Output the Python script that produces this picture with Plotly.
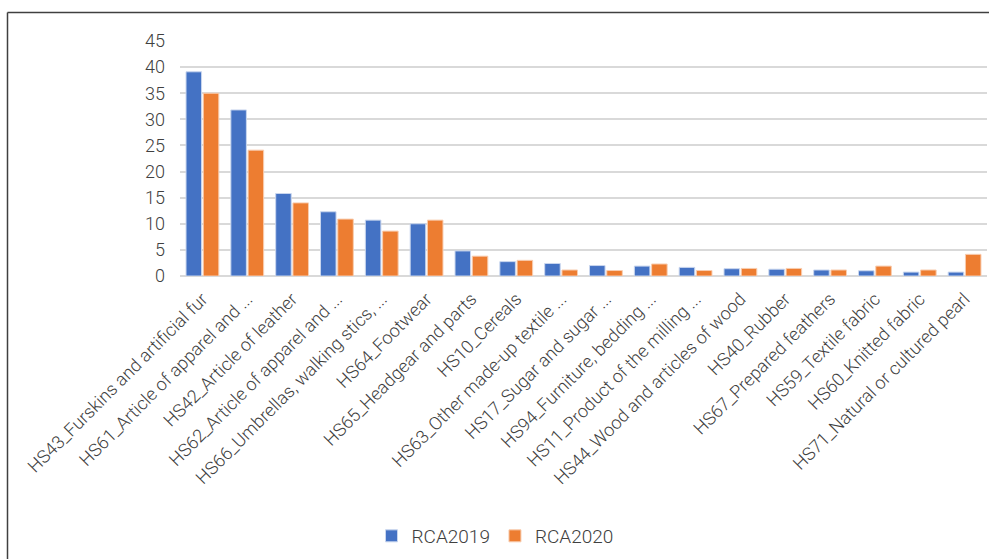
import plotly.graph_objects as go

categories = [
    "HS43_Furskins and artificial fur",
    "HS61_Article of apparel and ...",
    "HS42_Article of leather",
    "HS62_Article of apparel and ...",
    "HS66_Umbrellas, walking stics, ...",
    "HS64_Footwear",
    "HS65_Headgear and parts",
    "HS10_Cereals",
    "HS63_Other made-up textile ...",
    "HS17_Sugar and sugar ...",
    "HS94_Furniture, bedding ...",
    "HS11_Product of the milling ...",
    "HS44_Wood and articles of wood",
    "HS40_Rubber",
    "HS67_Prepared feathers",
    "HS59_Textile fabric",
    "HS60_Knitted fabric",
    "HS71_Natural or cultured pearl",
]
rca2019 = [39.1, 31.8, 15.8, 12.3, 10.7, 10.0, 4.8, 2.75, 2.4, 2.0, 1.9, 1.65, 1.4, 1.3, 1.15, 1.0, 0.75, 0.75]
rca2020 = [35.0, 24.1, 14.0, 10.9, 8.6, 10.7, 3.8, 3.0, 1.15, 1.05, 2.3, 1.05, 1.45, 1.45, 1.15, 1.9, 1.15, 4.15]
y_ticks = [0, 5, 10, 15, 20, 25, 30, 35, 40, 45]

FONT = "Roboto, 'Open Sans', sans-serif"
TXT = "#404040"

fig = go.Figure()
fig.add_trace(go.Bar(name="RCA2019", x=categories, y=rca2019,
                     marker=dict(color="#4472C4", line=dict(color="#c9d6ee", width=1))))
fig.add_trace(go.Bar(name="RCA2020", x=categories, y=rca2020,
                     marker=dict(color="#ED7D31", line=dict(color="#f8cdb0", width=1))))

L, R, T, B = 180, 2, 41, 283
W, H = 989, 559
pw, ph = W - L - R, H - T - B

def px_x(p):
    return (p - L) / pw

def px_y(p):
    return (H - B - p) / ph

fig.update_layout(
    width=W, height=H,
    margin=dict(l=L, r=R, t=T, b=B, pad=0),
    paper_bgcolor="white", plot_bgcolor="white",
    barmode="group", bargap=0.23, bargroupgap=0.1,
    font=dict(family=FONT, color=TXT, weight=300),
    showlegend=True,
    legend=dict(orientation="h", x=px_x(495), xanchor="center", y=px_y(536), yanchor="middle",
                font=dict(size=19, color=TXT, weight=300), itemwidth=30, traceorder="normal",
                tracegroupgap=0),
    xaxis=dict(tickangle=-45, tickfont=dict(size=18, color=TXT, weight=300), showgrid=False,
               showline=False, ticks="", automargin=False, ticklabelstandoff=8),
    yaxis=dict(range=[0, 45], tickvals=y_ticks, tickfont=dict(size=18, color=TXT, weight=300),
               showgrid=True, gridcolor="#d9d9d9", gridwidth=1.5, zeroline=True,
               zerolinecolor="#d9d9d9", zerolinewidth=1.5, showline=False, ticks="",
               ticklabelstandoff=14, automargin=False),
    shapes=[
        dict(type="line", xref="paper", yref="paper", x0=px_x(7.5), x1=px_x(992),
             y0=px_y(12.5), y1=px_y(12.5), line=dict(color="#404040", width=1.5)),
        dict(type="line", xref="paper", yref="paper", x0=px_x(7.5), x1=px_x(7.5),
             y0=px_y(12.5), y1=px_y(562), line=dict(color="#404040", width=1.5)),
    ],
)

fig.write_html("out.html")
